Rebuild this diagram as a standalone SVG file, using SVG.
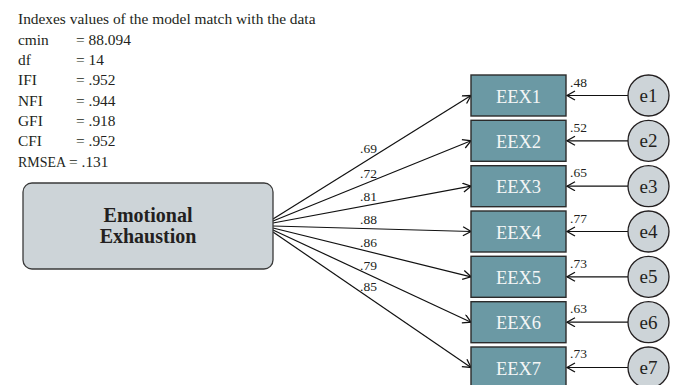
<svg xmlns="http://www.w3.org/2000/svg" width="677" height="385" viewBox="0 0 677 385">
<style>
text{font-family:"Liberation Serif","Times New Roman",serif;fill:#231f20}
.hd{font-size:15.4px}
.lb{font-size:13.5px}
.obs rect{fill:#6b99a4;stroke:#2b2b2b;stroke-width:1.4}
.obs text{font-size:18.5px;fill:#f4f6f6;text-anchor:middle}
.err circle{fill:#cdd4d8;stroke:#231f20;stroke-width:1.3}
.err text{font-size:19px;text-anchor:middle}
.con line{stroke:#111;stroke-width:1.2;fill:none;marker-end:url(#arr)}
</style>
<defs>
<marker id="arr" markerUnits="userSpaceOnUse" markerWidth="12" markerHeight="12" refX="9" refY="5" orient="auto">
<path d="M1,0.5 L9,5 L1,9.5" fill="none" stroke="#111" stroke-width="1.3"/>
</marker>
</defs>
<g id="fit-indexes">
<text class="hd" x="18" y="24">Indexes values of the model match with the data</text>
<text class="hd" x="18" y="44.5">cmin</text><text class="hd" x="76" y="44.5">= 88.094</text>
<text class="hd" x="18" y="65">df</text><text class="hd" x="76" y="65">= 14</text>
<text class="hd" x="18" y="85.3">IFI</text><text class="hd" x="76" y="85.3">= .952</text>
<text class="hd" x="18" y="105.7">NFI</text><text class="hd" x="76" y="105.7">= .944</text>
<text class="hd" x="18" y="126">GFI</text><text class="hd" x="76" y="126">= .918</text>
<text class="hd" x="18" y="146.3">CFI</text><text class="hd" x="76" y="146.3">= .952</text>
<text class="hd" x="18" y="166.5" textLength="48" lengthAdjust="spacingAndGlyphs">RMSEA</text><text class="hd" x="69" y="166.5">= .131</text>
</g>
<g id="connectors" class="con">
<line x1="273" y1="219" x2="471" y2="95.5"/>
<line x1="273" y1="221" x2="471" y2="140.8"/>
<line x1="273" y1="223" x2="471" y2="186.2"/>
<line x1="273" y1="226" x2="471" y2="231.5"/>
<line x1="273" y1="228" x2="471" y2="276.8"/>
<line x1="273" y1="230" x2="471" y2="322.2"/>
<line x1="273" y1="232" x2="471" y2="367.5"/>
<line x1="628" y1="95.5" x2="567" y2="95.5"/>
<line x1="628" y1="140.8" x2="567" y2="140.8"/>
<line x1="628" y1="186.2" x2="567" y2="186.2"/>
<line x1="628" y1="231.5" x2="567" y2="231.5"/>
<line x1="628" y1="276.8" x2="567" y2="276.8"/>
<line x1="628" y1="322.2" x2="567" y2="322.2"/>
<line x1="628" y1="367.5" x2="567" y2="367.5"/>
</g>
<g id="loadings">
<text class="lb" x="360" y="153">.69</text>
<text class="lb" x="360" y="178">.72</text>
<text class="lb" x="360" y="201">.81</text>
<text class="lb" x="360" y="224">.88</text>
<text class="lb" x="360" y="246.5">.86</text>
<text class="lb" x="360" y="269.5">.79</text>
<text class="lb" x="360" y="290.5">.85</text>
<text class="lb" x="570" y="86.5">.48</text>
<text class="lb" x="570" y="131.8">.52</text>
<text class="lb" x="570" y="177.2">.65</text>
<text class="lb" x="570" y="222.5">.77</text>
<text class="lb" x="570" y="267.5">.73</text>
<text class="lb" x="570" y="312.5">.63</text>
<text class="lb" x="570" y="357.5">.73</text>
</g>
<g id="emotional-exhaustion">
<rect x="23" y="183" width="250" height="86" rx="9" fill="#cdd4d8" stroke="#3a3a3a" stroke-width="1.3"/>
<text x="148" y="221.5" font-size="20" font-weight="bold" text-anchor="middle">Emotional</text>
<text x="148" y="243" font-size="20" font-weight="bold" text-anchor="middle">Exhaustion</text>
</g>
<g id="EEX1" class="obs"><rect x="471" y="75" width="95" height="41"/><text x="518.5" y="102.5">EEX1</text></g>
<g id="EEX2" class="obs"><rect x="471" y="120.3" width="95" height="41"/><text x="518.5" y="147.8">EEX2</text></g>
<g id="EEX3" class="obs"><rect x="471" y="165.7" width="95" height="41"/><text x="518.5" y="193.2">EEX3</text></g>
<g id="EEX4" class="obs"><rect x="471" y="211" width="95" height="41"/><text x="518.5" y="238.5">EEX4</text></g>
<g id="EEX5" class="obs"><rect x="471" y="256.3" width="95" height="41"/><text x="518.5" y="283.8">EEX5</text></g>
<g id="EEX6" class="obs"><rect x="471" y="301.7" width="95" height="41"/><text x="518.5" y="329.2">EEX6</text></g>
<g id="EEX7" class="obs"><rect x="471" y="347" width="95" height="41"/><text x="518.5" y="374.5">EEX7</text></g>
<g id="e1" class="err"><circle cx="648.5" cy="95.5" r="20.5"/><text x="648.5" y="102">e1</text></g>
<g id="e2" class="err"><circle cx="648.5" cy="140.8" r="20.5"/><text x="648.5" y="147.3">e2</text></g>
<g id="e3" class="err"><circle cx="648.5" cy="186.2" r="20.5"/><text x="648.5" y="192.7">e3</text></g>
<g id="e4" class="err"><circle cx="648.5" cy="231.5" r="20.5"/><text x="648.5" y="238">e4</text></g>
<g id="e5" class="err"><circle cx="648.5" cy="276.8" r="20.5"/><text x="648.5" y="283.3">e5</text></g>
<g id="e6" class="err"><circle cx="648.5" cy="322.2" r="20.5"/><text x="648.5" y="328.7">e6</text></g>
<g id="e7" class="err"><circle cx="648.5" cy="367.5" r="20.5"/><text x="648.5" y="374">e7</text></g>
</svg>
